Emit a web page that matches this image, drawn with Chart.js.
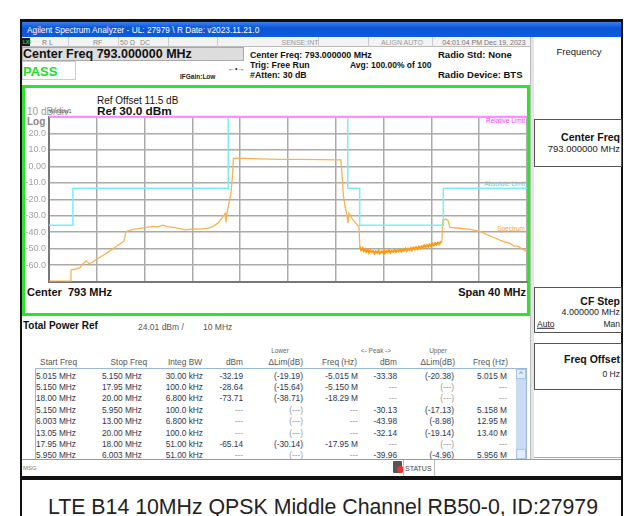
<!DOCTYPE html>
<html>
<head>
<meta charset="utf-8">
<script src="https://cdn.jsdelivr.net/npm/chart.js@4"></script>
<style>
  html, body { margin: 0; padding: 0; background: #fff; }
  #page { position: relative; width: 624px; height: 516px; overflow: hidden; font-family: "Liberation Sans", Arial, sans-serif; }
  .t { position: absolute; white-space: nowrap; line-height: 1; }
  .box { position: absolute; box-sizing: border-box; }
  #chartWrap { position: absolute; left: 22px; top: 108px; width: 508px; height: 182px; }
</style>
</head>
<body>
<div id="page">
  <div id="chartWrap"><canvas id="spectrumChart" width="508" height="182"></canvas></div>
</div>
<script>
// axis
const freqStart = 773;
const freqStop = 813;
const yTickValues = [20, 10, 0, -10, -20, -30, -40, -50, -60];
const yTickLabels = ["20.0", "10.0", "0.00", "-10.0", "-20.0", "-30.0", "-40.0", "-50.0", "-60.0"];

// spectrum trace (MHz, dBm)
const traceFreq = [773.0, 774.80, 774.84, 775.18, 775.59, 775.93, 776.10, 776.35, 776.60, 777.27, 777.77, 778.36, 778.86, 779.28,
  779.44, 780.03, 780.87, 781.70, 782.12, 782.54, 782.87, 783.38, 783.96, 784.46, 784.97, 785.64, 786.31, 786.72, 787.14,
  787.48, 787.73, 787.81, 787.90, 788.06, 788.23, 788.36, 788.44, 788.98, 790.66, 792.33, 794.00, 795.68, 797.43,
  797.52, 797.64, 797.77, 797.94, 798.02, 798.10, 798.43, 798.94, 799.02];
const traceLevel = [-69.8, -69.8, -62.8, -62.5, -61.5, -58.5, -57.4, -59.2, -58.3, -55.2, -53.0, -50.0, -47.5, -45.5,
  -39.5, -38.3, -37.3, -36.5, -36.8, -35.7, -36.6, -37.0, -37.8, -38.6, -38.0, -38.1, -37.5, -36.5, -34.5,
  -31.5, -28.5, -34.0, -28.0, -22.5, -16.0, -5.0, 4.8, 5.0, 4.6, 4.2, 4.3, 4.1, 4.0,
  -5.0, -18.0, -24.0, -30.0, -34.5, -28.5, -32.5, -36.5, -49.5];

// noisy floor between the upper edges
const floorFreq = [799.02, 799.12, 799.25, 799.33, 799.46, 799.55, 799.7, 799.78, 799.9, 800.02, 800.13, 800.25, 800.34,
  800.47, 800.58, 800.66, 800.8, 800.91, 801.02, 801.1, 801.24, 801.35, 801.44, 801.57, 801.68, 801.79, 801.9, 802.03,
  802.12, 802.26, 802.35, 802.48, 802.6, 802.7, 802.83, 802.94, 803.05, 803.16, 803.28, 803.37, 803.5, 803.62, 803.71,
  803.84, 803.95, 804.06, 804.18, 804.29, 804.4, 804.52, 804.63, 804.74, 804.86, 804.97, 805.08, 805.2, 805.31, 805.43,
  805.55, 805.66, 805.78, 805.88];
const floorLevel = [-48.8, -50.9, -49.7, -51.5, -50.3, -51.9, -50.6, -52.4, -51.1, -52.0, -51.4, -53.0, -51.6, -52.5,
  -51.2, -52.9, -51.8, -52.3, -51.0, -52.7, -51.5, -52.1, -50.9, -52.4, -51.3, -51.9, -50.7, -52.0, -50.9, -51.6,
  -50.4, -51.7, -50.6, -51.2, -49.9, -51.3, -50.1, -50.8, -49.6, -50.9, -49.4, -50.3, -49.1, -50.2, -48.7, -49.8,
  -48.6, -49.3, -48.0, -49.2, -47.8, -48.7, -47.4, -48.5, -47.0, -48.1, -46.6, -47.6, -46.3, -47.2, -45.9, -45.5];

const upperFreq = [805.88, 805.94, 806.22, 806.39, 806.56, 807.39, 808.23, 809.07, 809.65, 810.32, 810.99, 811.58, 811.91, 812.25, 812.58, 813.0];
const upperLevel = [-45.5, -32.8, -32.0, -33.0, -37.0, -37.6, -38.3, -39.5, -41.5, -43.5, -45.6, -46.8, -48.5, -48.5, -50.0, -52.0];

// limit lines
const absLimitFreq = [773, 775, 775, 788, 788, 798, 798, 799, 799, 806, 806, 813];
const absLimitLevel = [-35.7, -35.7, -13.3, -13.3, 30, 30, -13.3, -13.3, -35.7, -35.7, -13.3, -13.3];
const relLimitFreq = [773, 813];
const relLimitLevel = [30.2, 30.2];

// result table
const colStart = ["5.015 MHz", "5.150 MHz", "18.00 MHz", "5.150 MHz", "6.003 MHz", "13.05 MHz", "17.95 MHz", "5.950 MHz"];
const colStop = ["5.150 MHz", "17.95 MHz", "20.00 MHz", "5.950 MHz", "13.00 MHz", "20.00 MHz", "18.00 MHz", "6.003 MHz"];
const colBW = ["30.00 kHz", "100.0 kHz", "6.800 kHz", "100.0 kHz", "6.800 kHz", "100.0 kHz", "51.00 kHz", "51.00 kHz"];
const colLowDbm = ["-32.19", "-28.64", "-73.71", "---", "---", "---", "-65.14", "---"];
const colLowLim = ["(-19.19)", "(-15.64)", "(-38.71)", "(---)", "(---)", "(---)", "(-30.14)", "(---)"];
const colLowFreq = ["-5.015 M", "-5.150 M", "-18.29 M", "---", "---", "---", "-17.95 M", "---"];
const colUpDbm = ["-33.38", "---", "---", "-30.13", "-43.98", "-32.14", "---", "-39.96"];
const colUpLim = ["(-20.38)", "(---)", "(---)", "(-17.13)", "(-8.98)", "(-19.14)", "(---)", "(-4.96)"];
const colUpFreq = ["5.015 M", "---", "---", "5.158 M", "12.95 M", "13.40 M", "---", "5.956 M"];

const page = document.getElementById("page");

function box(x, y, w, h, css) {
    let d = document.createElement("div");
    d.className = "box";
    d.style.cssText = `left:${x}px;top:${y}px;width:${w}px;height:${h}px;` + (css || "");
    page.appendChild(d);
    return d;
}
function text(x, y, str, css, align) {
    let d = document.createElement("div");
    d.className = "t";
    d.textContent = str;
    let tx = align === "right" ? "-100%" : align === "center" ? "-50%" : "0";
    d.style.cssText = `left:${x}px;top:${y}px;transform:translate(${tx},-50%);` + (css || "");
    page.appendChild(d);
    return d;
}

// frame of the screenshot
box(20, 19, 603, 461, "border:2px solid #111;border-top-width:3px;background:#fff;");
box(20, 478, 2, 38, "background:#111;");
box(621, 478, 2, 38, "background:#111;");
box(22, 22, 599, 15, "background:linear-gradient(#3a80ee,#0a55d6 40%,#0c5ce0);");
text(27, 29.5, "Agilent Spectrum Analyzer - UL: 27979 \\ R Date: v2023.11.21.0", "color:#fff;font-size:8.3px;");

// status row
box(22, 37, 509, 10, "background:#f3f3f3;border-bottom:1px solid #bbb;");
box(22, 38, 8, 8, "background:#1a1a1a;");
text(23, 42, "LXI", "color:#3c3;font-size:5px;font-weight:bold;");
text(42, 42, "R L", "color:#777;font-size:7px;");
text(93, 42, "RF", "color:#888;font-size:7px;");
text(120, 42, "50 \u03A9", "color:#888;font-size:7px;");
text(140, 42, "DC", "color:#888;font-size:7px;");
[68, 118, 168, 217, 318, 368, 432].forEach(x => box(x, 37, 1, 10, "background:#ccc;"));
text(300, 42, "SENSE:INT", "color:#999;font-size:7px;", "center");
text(402, 42, "ALIGN AUTO", "color:#999;font-size:7px;", "center");
text(484, 42, "04:01:04 PM Dec 19, 2023", "color:#777;font-size:7px;", "center");

// settings rows
box(22, 47, 222, 14, "background:#ddd;border:1px solid #aaa;");
text(23, 54, "Center Freq 793.000000 MHz", "color:#111;font-size:12.5px;font-weight:bold;");
box(22, 61, 54, 19, "border:1px solid #ccc;background:#fff;");
text(23, 71, "PASS", "color:#2d2;font-size:13px;font-weight:bold;");
text(180, 77, "IFGain:Low", "color:#222;font-size:6.5px;font-weight:bold;");
text(228, 68, "\u2190\u2022\u2192", "color:#222;font-size:7px;");
text(250, 54.5, "Center Freq: 793.000000 MHz", "color:#111;font-size:8.8px;font-weight:bold;");
text(250, 65, "Trig: Free Run", "color:#111;font-size:8.8px;font-weight:bold;");
text(250, 75, "#Atten: 30 dB", "color:#111;font-size:8.8px;font-weight:bold;");
text(350, 65, "Avg: 100.00% of 100", "color:#111;font-size:8.5px;font-weight:bold;");
text(438, 55, "Radio Std: None", "color:#111;font-size:9.5px;font-weight:bold;");
text(438, 75, "Radio Device: BTS", "color:#111;font-size:9.5px;font-weight:bold;");

// plot frame
box(22, 85, 508, 231, "border:3px solid #2de32d;");
text(97, 101, "Ref Offset 11.5 dB", "color:#111;font-size:10px;");
text(97, 111.5, "Ref 30.0 dBm", "color:#111;font-size:11.8px;font-weight:bold;");
text(27, 112, "10 dB/div", "color:#999;font-size:10px;");
text(49, 112, "Window1", "color:#555;font-size:5.5px;");
text(27, 122, "Log", "color:#888;font-size:10px;font-weight:bold;");
text(525, 121, "Relative Limit", "color:#f3f;font-size:6.5px;", "right");
text(525, 184, "Absolute Limit", "color:#3dd;font-size:6.5px;", "right");
text(525, 229, "Spectrum", "color:#f9a830;font-size:6.5px;", "right");
text(27, 292, "Center  793 MHz", "color:#111;font-size:11px;font-weight:bold;white-space:pre;");
text(526, 292, "Span 40 MHz", "color:#111;font-size:11px;font-weight:bold;", "right");

// right panel
box(530, 37, 4, 423, "background:#e4e4e4;border-left:1px solid #bbb;");
text(579, 52, "Frequency", "color:#222;font-size:9.5px;", "center");
box(534, 119, 88, 48, "border:1.5px solid #555;");
text(620, 137, "Center Freq", "color:#111;font-size:10.5px;font-weight:bold;", "right");
text(620, 149, "793.000000 MHz", "color:#222;font-size:9.5px;", "right");
box(534, 287, 88, 46, "border:1.5px solid #555;");
text(620, 301, "CF Step", "color:#111;font-size:10.5px;font-weight:bold;", "right");
text(620, 312, "4.000000 MHz", "color:#222;font-size:9px;", "right");
text(537, 324, "Auto", "color:#222;font-size:8.5px;text-decoration:underline;");
text(620, 324, "Man", "color:#222;font-size:8.5px;", "right");
box(534, 343, 88, 47, "border:1.5px solid #555;");
text(620, 359, "Freq Offset", "color:#111;font-size:10.5px;font-weight:bold;", "right");
text(620, 374, "0 Hz", "color:#222;font-size:8.5px;", "right");
box(534, 457, 87, 1, "background:#aaa;");

// table
text(23, 326, "Total Power Ref", "color:#111;font-size:10px;font-weight:bold;");
text(138, 327, "24.01 dBm /", "color:#555;font-size:8.5px;");
text(203, 327, "10 MHz", "color:#555;font-size:8.5px;");
text(280, 351, "Lower", "color:#666;font-size:6.5px;", "center");
text(376, 351, "<- Peak ->", "color:#666;font-size:6.5px;", "center");
text(438, 351, "Upper", "color:#666;font-size:6.5px;", "center");
const headers = ["Start Freq", "Stop Freq", "Integ BW", "dBm", "\u0394Lim(dB)", "Freq (Hz)", "dBm", "\u0394Lim(dB)", "Freq (Hz)"];
const headerRight = [77, 147, 202, 243, 303, 357, 397, 455, 508];
headers.forEach((h, i) => text(headerRight[i], 362, h, "color:#555;font-size:8.3px;", "right"));
box(35, 368, 492, 91, "border:1px solid #9bb8dd;border-bottom:none;");
box(516, 369, 10, 90, "background:#c9dbf6;");
box(516, 369, 10, 10, "background:#e2ecfb;border:1px solid #aac3ea;");
box(516, 449, 10, 10, "background:#e2ecfb;border:1px solid #aac3ea;");
text(521, 374, "^", "color:#36c;font-size:8px;", "center");
const colRight = [76, 142, 203, 243, 303, 358, 397, 454, 507];
const cols = [colStart, colStop, colBW, colLowDbm, colLowLim, colLowFreq, colUpDbm, colUpLim, colUpFreq];
for (let r = 0; r < colStart.length; r++) {
    let y = 375.5 + r * 11.4;
    cols.forEach((c, i) => {
        let v = c[r];
        let col = v.indexOf("---") >= 0 ? "#999" : "#2b3650";
        text(colRight[i], y, v, `color:${col};font-size:8.3px;`, "right");
    });
}

// message bar
box(22, 459, 599, 1, "background:#999;");
text(23, 468, "MSG", "color:#777;font-size:6px;");
box(393, 461, 9, 12, "background:#555;border-radius:1px;");
box(397, 466, 7, 7, "background:#e33;border-radius:50%;");
box(403, 460, 32, 16, "border-left:1px solid #bbb;border-right:1px solid #bbb;");
text(405, 468, "STATUS", "color:#444;font-size:7px;");
box(20, 476, 603, 4, "background:#111;");

// caption
text(323, 508, "LTE B14 10MHz QPSK Middle Channel RB50-0, ID:27979", "color:#222;font-size:21.3px;", "center");

// chart
function toPoints(xs, ys) {
    return xs.map((x, i) => ({ x: x, y: ys[i] }));
}
page.appendChild(document.getElementById("chartWrap"));

let ctx = document.getElementById("spectrumChart").getContext("2d");
let spectrumChart = new Chart(ctx, {
    type: "line",
    data: {
        datasets: [
            { label: "Relative Limit", data: toPoints(relLimitFreq, relLimitLevel), borderColor: "#ff88ff", borderWidth: 2, clip: 4 },
            { label: "Absolute Limit", data: toPoints(absLimitFreq, absLimitLevel), borderColor: "#77eef8", borderWidth: 1.5, clip: 4 },
            { label: "Spectrum", data: toPoints(traceFreq, traceLevel), borderColor: "#fbb24e", borderWidth: 1.3 },
            { label: "Floor", data: toPoints(floorFreq, floorLevel), borderColor: "#ff9a10", borderWidth: 2 },
            { label: "Upper", data: toPoints(upperFreq, upperLevel), borderColor: "#fbb24e", borderWidth: 1.3 }
        ]
    },
    options: {
        responsive: false,
        animation: false,
        devicePixelRatio: 1,
        layout: { padding: { top: 9, right: 3, bottom: 6, left: 0 } },
        elements: { point: { radius: 0 }, line: { tension: 0 } },
        plugins: { legend: { display: false }, tooltip: { enabled: false } },
        scales: {
            x: {
                type: "linear",
                min: freqStart,
                max: freqStop,
                ticks: { stepSize: 4, display: false },
                grid: { color: "#aaaaaa", lineWidth: 1.5, drawTicks: false },
                border: { color: "#777", width: 2 },
                afterFit: function (scale) { scale.height = 0; }
            },
            y: {
                min: -70,
                max: 30,
                ticks: {
                    stepSize: 10,
                    padding: 3,
                    color: "#a0a0a0",
                    font: { family: "Liberation Sans", size: 9 },
                    callback: function (value) {
                        let i = yTickValues.indexOf(value);
                        return i >= 0 ? yTickLabels[i] : "";
                    }
                },
                grid: { color: "#aaaaaa", lineWidth: 1.5, drawTicks: false },
                border: { color: "#777", width: 2 },
                afterFit: function (scale) { scale.width = 27; }
            }
        }
    }
});
</script>
</body>
</html>
